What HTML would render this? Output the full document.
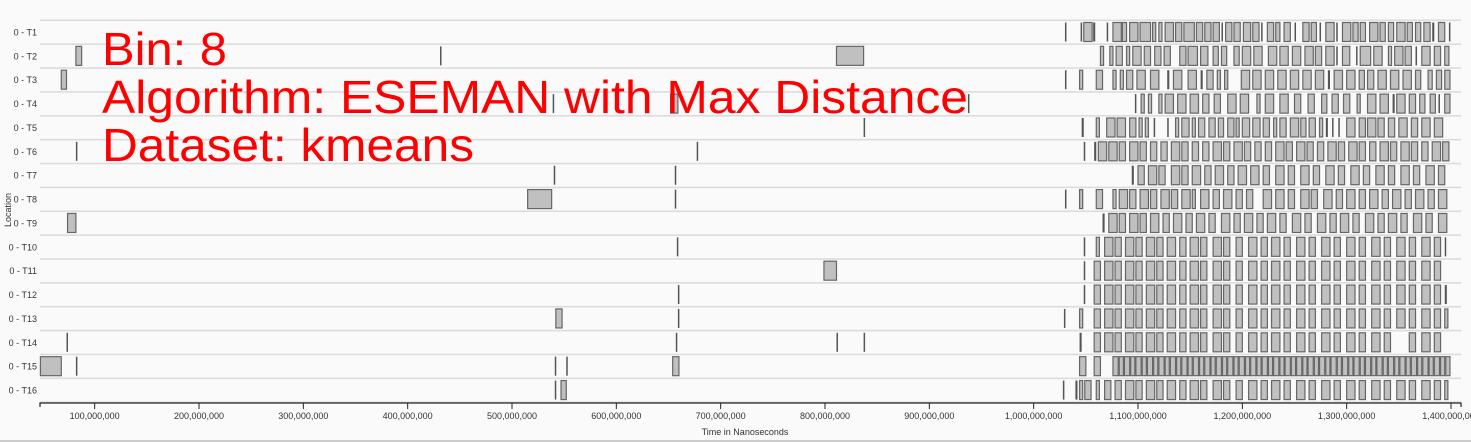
<!DOCTYPE html>
<html><head><meta charset="utf-8"><style>
html,body{margin:0;padding:0;background:#fafafa;}
svg{display:block;font-family:"Liberation Sans",sans-serif;}
</style></head><body>
<svg id="chart" width="1471" height="442"></svg>
<script>
// rows (locations)
const rows = ["0 - T1","0 - T2","0 - T3","0 - T4","0 - T5","0 - T6","0 - T7","0 - T8","0 - T9","0 - T10","0 - T11","0 - T12","0 - T13","0 - T14","0 - T15","0 - T16"];
// tick values (nanoseconds)
const ticks = [100e6,200e6,300e6,400e6,500e6,600e6,700e6,800e6,900e6,1000e6,1100e6,1200e6,1300e6,1400e6];
// events per row: "start:width" in millions of ns
const events = [
"1030:0.5 1045:1 1048:8 1057:2 1070:1 1076:8 1085:4 1092:8 1102:10 1114:3 1120:3 1126:8 1136:6 1144:10 1156:6 1164:6 1172:6 1180:1 1184:6 1192:6 1201:7 1210:6 1218:1 1224:6 1232:4 1240:6 1250:1 1258:6 1266:5 1274:1 1280:8 1290:1 1296:8 1306:5 1313:5 1322:8 1332:5 1340:5 1348:8 1358:5 1366:5 1374:6 1382:2 1388:6 1398:0.5",
"82:5.5 431:0.5 811:26 1064:3 1073:3 1079:6 1089:3 1095:8 1106:6 1116:6 1125:6 1140:6 1148:9 1160:7 1172:5 1180:5 1192:5 1200:8 1211:8 1225:8 1236:8 1248:8 1260:8 1270:6 1280:8 1290:1 1296:7 1309:1 1313:10 1326:8 1340:3 1346:8 1356:6 1366:1 1372:8 1384:6 1394:4",
"68:5 1030:0.5 1044:3 1060:6 1076:3 1083:3 1089:6 1099:8 1112:8 1128:2 1134:8 1148:8 1160:2 1166:6 1176:3 1183:3 1199:8 1210:8 1222:8 1234:8 1246:8 1258:8 1270:8 1282:2 1288:8 1300:8 1312:5 1320:6 1330:8 1342:8 1354:8 1366:5 1378:4 1386:5 1394:5",
"539:0.5 652:7 937:0.5 1097:0.5 1103:3 1110:3 1120:3 1126:8 1138:8 1150:8 1162:6 1173:6 1186:8 1198:8 1214:3 1222:8 1236:8 1250:6 1263:6 1276:5 1286:6 1297:6 1310:3 1320:8 1332:8 1344:2 1348:8 1360:6 1370:5 1380:5 1388:1 1394:5",
"837:0.5 1046:2 1060:3 1070:8 1080:8 1092:6 1101:3 1107:3 1115:1 1128:1 1136:3 1142:7 1152:3 1158:6 1168:6 1177:5 1186:6 1194:3 1200:7 1210:7 1220:6 1230:3 1236:6 1246:8 1256:5 1264:6 1274:3 1280:2 1286:1 1292:1 1300:8 1312:6 1320:8 1330:6 1340:6 1350:8 1362:6 1372:8 1384:8",
"82:0.5 677:0.5 1048:0.5 1058:2 1062:8 1072:8 1082:6 1092:8 1102:6 1112:6 1122:6 1132:8 1142:6 1152:6 1162:6 1172:8 1182:6 1192:8 1202:6 1212:6 1222:6 1232:8 1242:6 1252:8 1262:6 1272:6 1282:8 1292:6 1302:8 1312:6 1322:6 1332:8 1342:6 1352:8 1362:6 1372:6 1382:8 1392:6",
"540:0.5 656:0.5 1094:2 1100:6 1110:8 1120:6 1132:8 1142:6 1152:8 1164:6 1174:8 1186:6 1196:8 1208:8 1220:6 1232:8 1244:6 1256:8 1268:6 1280:8 1292:6 1304:8 1316:6 1328:8 1340:6 1352:8 1364:6 1376:8 1388:6",
"515:23 656:0.8 1030:0.5 1044:3 1060:6 1076:3 1082:8 1092:6 1102:8 1112:6 1122:8 1132:6 1142:8 1152:3 1160:8 1172:6 1182:8 1194:6 1204:6 1220:8 1232:8 1244:6 1256:8 1266:6 1278:8 1290:6 1300:8 1312:6 1322:8 1334:6 1344:8 1356:6 1366:8 1378:6 1388:8",
"74:8 1066:2 1072:8 1082:6 1092:8 1102:6 1112:8 1124:6 1134:8 1146:6 1156:8 1168:6 1180:8 1192:6 1202:8 1214:6 1224:8 1236:6 1248:8 1260:6 1272:8 1284:6 1294:8 1306:6 1318:8 1330:6 1340:8 1352:6 1364:8 1376:6 1388:8",
"658:0.5 1048:0.5 1060:3 1068:8 1078:6 1088:8 1098:6 1108:8 1118:6 1128:8 1140:6 1150:8 1160:6 1172:8 1182:6 1194:6 1206:8 1218:6 1228:8 1240:6 1252:8 1264:6 1276:8 1288:6 1300:8 1312:6 1324:8 1336:6 1348:8 1360:6 1372:8 1384:6 1394:1",
"799:12 1048:0.5 1058:6 1068:8 1078:6 1088:8 1098:6 1108:8 1118:6 1128:8 1140:6 1150:8 1160:6 1172:8 1182:6 1194:6 1206:8 1218:6 1228:8 1240:6 1252:8 1264:6 1276:8 1288:6 1300:8 1312:6 1324:8 1336:6 1348:8 1360:6 1372:8 1384:6",
"659:0.5 1048:0.5 1058:6 1068:8 1078:6 1088:8 1098:6 1108:8 1118:6 1128:8 1140:6 1150:8 1160:6 1172:8 1182:6 1194:6 1206:8 1218:6 1228:8 1240:6 1252:8 1264:6 1276:8 1288:6 1300:8 1312:6 1324:8 1336:6 1348:8 1360:6 1372:8 1384:6 1394:2",
"542:6 659:0.5 1029:0.5 1044:3 1058:6 1068:8 1078:6 1088:8 1098:6 1108:8 1118:6 1128:8 1140:6 1150:8 1160:6 1172:8 1182:6 1194:6 1206:8 1218:6 1228:8 1240:6 1252:8 1264:6 1276:8 1288:6 1300:8 1312:6 1324:8 1336:6 1348:8 1360:6 1372:8 1384:6 1394:3",
"73:0.5 657:0.5 811:0.5 837:0.5 1044:2 1058:6 1068:8 1078:6 1088:8 1098:6 1108:8 1118:6 1128:8 1140:6 1150:8 1160:6 1172:8 1182:6 1194:6 1206:8 1218:6 1228:8 1240:6 1252:8 1264:6 1276:8 1288:6 1300:8 1312:6 1324:8 1336:6 1360:6 1372:8 1384:6",
"48:20 82:0.5 541:0.5 552:0.5 654:6 1044:6 1058:6 1076:5 1082:4 1087:5 1093:4 1098:5 1104:4 1109:5 1115:4 1120:5 1126:4 1131:5 1137:4 1142:5 1148:4 1153:5 1159:4 1164:5 1170:4 1175:5 1181:4 1186:5 1192:4 1197:5 1203:4 1208:5 1214:4 1219:5 1225:4 1230:5 1236:4 1241:5 1247:4 1252:5 1258:4 1263:5 1269:4 1274:5 1280:4 1285:5 1291:4 1296:5 1302:4 1307:5 1313:4 1318:5 1324:4 1329:5 1335:4 1340:5 1346:4 1351:5 1357:4 1362:5 1368:4 1373:5 1379:4 1384:5 1390:4 1395:4",
"541:0.5 547:5 1028:0.5 1040:2 1044:3 1049:6 1060:3 1068:6 1078:6 1088:8 1098:6 1108:8 1118:6 1128:8 1140:6 1150:8 1160:6 1172:8 1182:6 1194:6 1206:8 1218:6 1228:8 1240:6 1252:8 1264:6 1276:8 1288:6 1300:8 1312:6 1324:8 1336:6 1348:8 1360:6 1372:8 1384:6 1394:3"
];

const NS = "http://www.w3.org/2000/svg";
const svg = document.getElementById("chart");
const X0 = 40, X1 = 1451, DMIN = 47.6e6, DMAX = 1400e6;
const xs = v => X0 + (v - DMIN) / (DMAX - DMIN) * (X1 - X0);
const rowY = i => 32 + i * 23.87;
function mk(tag, attrs){const e=document.createElementNS(NS,tag);for(const k in attrs)e.setAttribute(k,attrs[k]);svg.appendChild(e);return e;}

rows.forEach((r,i)=>{
  const c = rowY(i);
  const sep = mk("rect",{x:X0,y:c-12.5,width:X1-X0+10,height:1.6,fill:"#dcdcdc"});
  
  
  const t = mk("text",{x:37,y:c+3.5,"text-anchor":"end","font-size":"9","fill":"#333"});
  t.textContent = r;
  
  
  events[i].split(" ").forEach(tok=>{
    const [s,w] = tok.split(":").map(Number);
    const x = xs(s*1e6), wpx = Math.max(xs((s+w)*1e6)-x, 1.5);
    const b = mk("rect",{x:x,y:c-9.5,width:wpx,height:19,fill: wpx<2.5?"#555":"#c0c0c0",stroke:"#666","stroke-width":wpx<2.5?0:1.2});
    
    
  });
});
const last = mk("rect",{x:X0,y:rowY(16)-12.5,width:X1-X0+10,height:1.6,fill:"#dcdcdc"});



const ax = mk("path",{d:`M${X0},407V403H${X1+10}V407`,stroke:"#222",fill:"none","stroke-width":1.2});


ticks.forEach(v=>{
  const x = xs(v);
  const tk = mk("line",{x1:x,x2:x,y1:403,y2:409,stroke:"#222"});
  
  
  const tl = mk("text",{x:x,y:419,"text-anchor":"middle","font-size":"9","fill":"#333"});
  tl.textContent = v.toLocaleString("en-US");
  
  
});
const xt = mk("text",{x:745,y:435,"text-anchor":"middle","font-size":"9","fill":"#333"});
xt.textContent = "Time in Nanoseconds";


const yt = mk("text",{x:0,y:0,"text-anchor":"middle","font-size":"9","fill":"#333",transform:"translate(11,210) rotate(-90)"});
yt.textContent = "Location";


const bottom = mk("rect",{x:0,y:440,width:1471,height:2,fill:"#ccc"});



const lines = ["Bin: 8","Algorithm: ESEMAN with Max Distance","Dataset: kmeans"];
const lineW = [125, 866, 372];
lines.forEach((s,i)=>{
  const t = mk("text",{x:102,y:65+i*48,"font-size":"46","fill":"#ff0000",textLength:lineW[i],lengthAdjust:"spacingAndGlyphs"});
  t.textContent = s;
  
  
});
</script>
</body></html>
